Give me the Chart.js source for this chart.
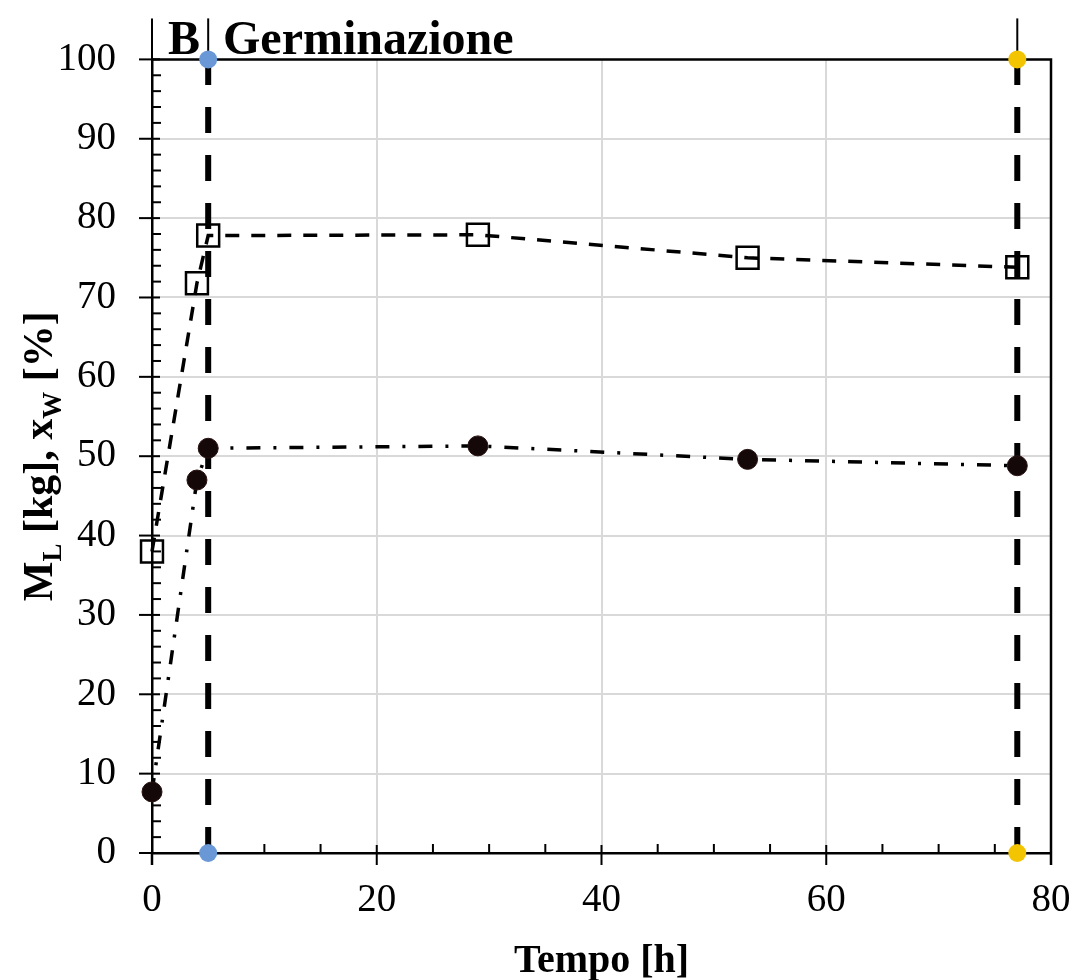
<!DOCTYPE html>
<html>
<head>
<meta charset="utf-8">
<title>Germinazione</title>
<script src="https://cdn.jsdelivr.net/npm/chart.js@4.4.1/dist/chart.umd.min.js"></script>
<style>
  html, body { margin: 0; padding: 0; background: #fff; }
  #wrap { width: 1075px; height: 980px; position: relative; }
</style>
</head>
<body>
<div id="wrap"><canvas id="chartGerm"></canvas></div>
<script>
  // data
  const timeH = [0, 4, 5, 29, 53, 77];
  const squareSeries = [38, 71.8, 77.8, 77.9, 75, 73.8];
  const circleSeries = [7.7, 47, 51, 51.3, 49.6, 48.8];
  const phaseMarksX = [5, 77];
  const phaseMarkColors = ['#6a98d6', '#f3c500'];
  const yRange = [0, 100];
  const xTicks = [0, 20, 40, 60, 80];
  const yTicks = [0, 10, 20, 30, 40, 50, 60, 70, 80, 90, 100];

  const FONT = "'Liberation Serif', 'Times New Roman', serif";

  const toPoints = (xs, ys) => xs.map((x, i) => ({ x, y: ys[i] }));

  const phaseSets = phaseMarksX.map((x, i) => ({
    label: 'fase ' + (i + 1),
    data: yRange.map((y) => ({ x, y })),
    borderColor: '#000',
    borderWidth: 6,
    borderDash: [26, 22],
    pointRadius: 9,
    pointBackgroundColor: phaseMarkColors[i],
    pointBorderWidth: 0,
    clip: false,
    order: 3,
  }));

  const frameAndTitles = {
    id: 'frameAndTitles',
    beforeDatasetsDraw(chart) {
      const { ctx, chartArea: a, scales: { x, y } } = chart;
      ctx.save();
      ctx.strokeStyle = '#000';
      ctx.lineCap = 'butt';

      // top / right frame
      ctx.lineWidth = 2.5;
      ctx.beginPath();
      ctx.moveTo(a.left, a.top);
      ctx.lineTo(a.right, a.top);
      ctx.lineTo(a.right, a.bottom + 12);
      ctx.stroke();

      // left axis and phase lines run up past the frame
      ctx.lineWidth = 2;
      [0, ...phaseMarksX].forEach((v) => {
        const px = x.getPixelForValue(v);
        ctx.beginPath();
        ctx.moveTo(px, a.top);
        ctx.lineTo(px, a.top - 41);
        ctx.stroke();
      });
      ctx.lineWidth = 2.5;
      ctx.beginPath();
      ctx.moveTo(a.left, a.bottom);
      ctx.lineTo(a.left, a.bottom + 12);
      ctx.stroke();

      // y ticks: majors cross, minors inside
      ctx.lineWidth = 2;
      for (let v = 0; v <= 100; v += 2) {
        const py = y.getPixelForValue(v);
        ctx.beginPath();
        if (v % 10 === 0) {
          ctx.moveTo(a.left - 13, py);
          ctx.lineTo(a.left + 8, py);
        } else {
          ctx.moveTo(a.left, py);
          ctx.lineTo(a.left + 9, py);
        }
        ctx.stroke();
      }
      // x ticks
      for (let v = 0; v <= 80; v += 5) {
        const px = x.getPixelForValue(v);
        ctx.beginPath();
        if (v % 20 === 0) {
          ctx.moveTo(px, a.bottom - 8);
          ctx.lineTo(px, a.bottom + 12);
        } else {
          ctx.moveTo(px, a.bottom - 9);
          ctx.lineTo(px, a.bottom);
        }
        ctx.stroke();
      }
      ctx.restore();
    },
    afterDraw(chart) {
      const { ctx, chartArea: a } = chart;
      ctx.save();
      ctx.fillStyle = '#000';
      ctx.textBaseline = 'alphabetic';

      // panel title
      ctx.font = `bold 48px ${FONT}`;
      ctx.textAlign = 'left';
      ctx.fillText('B', 168, 54);
      ctx.fillText('Germinazione', 223, 54);

      // x title
      ctx.font = `bold 40px ${FONT}`;
      ctx.textAlign = 'center';
      ctx.fillText('Tempo [h]', (a.left + a.right) / 2, 972);

      // y title with subscripts
      const size = 42;
      const parts = [
        ['M', false], ['L', true], [' [kg], x', false], ['W', true], [' [%]', false],
      ];
      const fontFor = (sub) => `bold ${sub ? Math.round(size * 0.65) : size}px ${FONT}`;
      let total = 0;
      parts.forEach(([t, sub]) => { ctx.font = fontFor(sub); total += ctx.measureText(t).width; });
      ctx.translate(52, (a.top + a.bottom) / 2);
      ctx.rotate(-Math.PI / 2);
      ctx.textAlign = 'left';
      let cx = -total / 2;
      parts.forEach(([t, sub]) => {
        ctx.font = fontFor(sub);
        ctx.fillText(t, cx, sub ? size * 0.22 : 0);
        cx += ctx.measureText(t).width;
      });
      ctx.restore();
    },
  };

  new Chart(document.getElementById('chartGerm'), {
    type: 'line',
    data: {
      datasets: [
        {
          label: 'quadrati',
          data: toPoints(timeH, squareSeries),
          borderColor: '#000',
          borderWidth: 3.5,
          borderDash: [14, 12],
          pointStyle: 'rect',
          pointRadius: 15.5,
          pointBorderWidth: 2.5,
          pointBorderColor: '#000',
          pointBackgroundColor: 'rgba(0,0,0,0)',
          clip: false,
          order: 2,
        },
        {
          label: 'cerchi',
          data: toPoints(timeH, circleSeries),
          borderColor: '#000',
          borderWidth: 3.5,
          borderDash: [14, 13, 3, 13],
          pointStyle: 'circle',
          pointRadius: 10,
          pointBorderWidth: 1,
          pointBorderColor: '#2a1212',
          pointBackgroundColor: '#140808',
          clip: false,
          order: 1,
        },
        ...phaseSets,
      ],
    },
    options: {
      responsive: true,
      maintainAspectRatio: false,
      animation: false,
      devicePixelRatio: 1,
      layout: { padding: { top: 58, right: 24, bottom: 0, left: 0 } },
      plugins: {
        legend: { display: false },
        tooltip: { enabled: false },
      },
      scales: {
        x: {
          type: 'linear',
          min: 0,
          max: 80,
          afterFit: (scale) => {
            scale.height = 127;
            scale.paddingLeft = 0;
            scale.paddingRight = 0;
          },
          afterBuildTicks: (scale) => { scale.ticks = xTicks.map((value) => ({ value })); },
          border: { display: true, color: '#000', width: 2.5 },
          grid: {
            drawTicks: false,
            color: (c) => (c.tick && (c.tick.value === 0 || c.tick.value === 80) ? 'rgba(0,0,0,0)' : '#d9d9d9'),
            lineWidth: 2,
          },
          ticks: {
            padding: 24,
            color: '#000',
            font: { family: FONT, size: 39 },
          },
        },
        y: {
          min: 0,
          max: 100,
          afterFit: (scale) => { scale.width = 152; },
          afterBuildTicks: (scale) => { scale.ticks = yTicks.map((value) => ({ value })); },
          border: { display: true, color: '#000', width: 2.5 },
          grid: {
            drawTicks: false,
            color: (c) => (c.tick && (c.tick.value === 0 || c.tick.value === 100) ? 'rgba(0,0,0,0)' : '#d9d9d9'),
            lineWidth: 2,
          },
          ticks: {
            padding: 36,
            color: '#000',
            font: { family: FONT, size: 39 },
          },
        },
      },
    },
    plugins: [frameAndTitles],
  });
</script>
</body>
</html>
